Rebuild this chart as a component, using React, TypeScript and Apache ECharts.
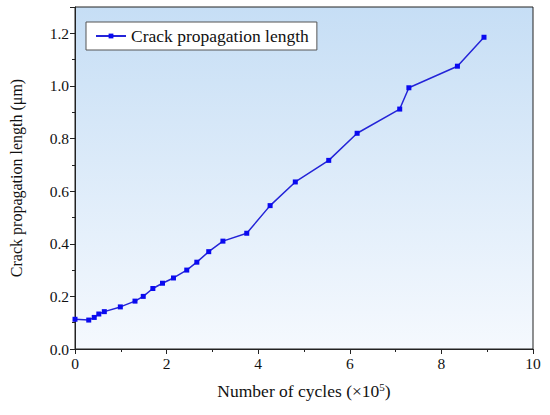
import React, { useEffect, useRef } from "react";
import * as echarts from "echarts";

const cycles = [0, 0.3, 0.42, 0.52, 0.64, 0.99, 1.31, 1.49, 1.7, 1.91, 2.15, 2.44, 2.66, 2.92, 3.23, 3.75, 4.26, 4.81, 5.54, 6.16, 7.09, 7.29, 8.35, 8.93];
const crackLength = [0.113, 0.11, 0.12, 0.133, 0.142, 0.16, 0.182, 0.2, 0.23, 0.25, 0.27, 0.3, 0.33, 0.37, 0.41, 0.44, 0.545, 0.635, 0.717, 0.82, 0.912, 0.993, 1.075, 1.185];
const seriesName = "Crack propagation length";

const FONT = "'Liberation Serif', 'Times New Roman', serif";

export default function App() {
  const ref = useRef<HTMLDivElement>(null);
  useEffect(() => {
    if (!ref.current) return;
    const chart = echarts.init(ref.current, null, { renderer: "svg" });
    chart.setOption({
      animation: false,
      backgroundColor: "#ffffff",
      textStyle: { fontFamily: FONT },
      grid: {
        left: 73,
        right: 17,
        top: 7,
        bottom: 66,
        show: true,
        borderColor: "#222",
        borderWidth: 1,
        backgroundColor: new echarts.graphic.LinearGradient(0, 0, 0, 1, [
          { offset: 0, color: "#c6def5" },
          { offset: 1, color: "#f5f9fe" },
        ]),
      },
      legend: {
        left: 86,
        top: 22,
        padding: [5, 8, 5, 9],
        borderColor: "#555",
        borderWidth: 1,
        backgroundColor: "#ffffff",
        itemWidth: 30,
        itemHeight: 6,
        textStyle: { fontFamily: FONT, fontSize: 17.5, color: "#111" },
        data: [seriesName],
      },
      xAxis: {
        type: "value",
        min: 0,
        max: 10,
        interval: 2,
        name: "Number of cycles (×10{sup|5})",
        nameLocation: "middle",
        nameGap: 32,
        nameTextStyle: {
          fontFamily: FONT,
          fontSize: 17.5,
          color: "#111",
          rich: { sup: { fontFamily: FONT, fontSize: 11, color: "#111", verticalAlign: "top", padding: [0, 0, 8, 0] } },
        },
        axisLine: { show: true, lineStyle: { color: "#222", width: 1 } },
        axisTick: { show: true, inside: false, length: 5, lineStyle: { color: "#222" } },
        minorTick: { show: true, splitNumber: 2, length: 3, lineStyle: { color: "#222" } },
        splitLine: { show: false },
        axisLabel: { fontFamily: FONT, fontSize: 15.5, color: "#111", margin: 6 },
      },
      yAxis: {
        type: "value",
        min: 0,
        max: 1.3,
        interval: 0.2,
        name: "Crack propagation length (μm)",
        nameLocation: "middle",
        nameGap: 51,
        nameTextStyle: { fontFamily: FONT, fontSize: 16, color: "#111" },
        axisLine: { show: true, lineStyle: { color: "#222", width: 1 } },
        axisTick: { show: true, inside: false, length: 5, lineStyle: { color: "#222" } },
        minorTick: { show: true, splitNumber: 2, length: 3, lineStyle: { color: "#222" } },
        splitLine: { show: false },
        axisLabel: {
          fontFamily: FONT,
          fontSize: 15.5,
          color: "#111",
          margin: 6,
          showMaxLabel: false,
          formatter: (v: number) => v.toFixed(1),
        },
      },
      series: [
        {
          name: seriesName,
          type: "line",
          data: cycles.map((c, i) => [c, crackLength[i]]),
          symbol: "rect",
          symbolSize: 5,
          itemStyle: { color: "#0a0af0" },
          lineStyle: { color: "#2424d8", width: 1.5 },
        },
      ],
    });
    return () => chart.dispose();
  }, []);
  return <div ref={ref} style={{ position: "absolute", left: 0, top: 0, width: 550, height: 415 }} />;
}
